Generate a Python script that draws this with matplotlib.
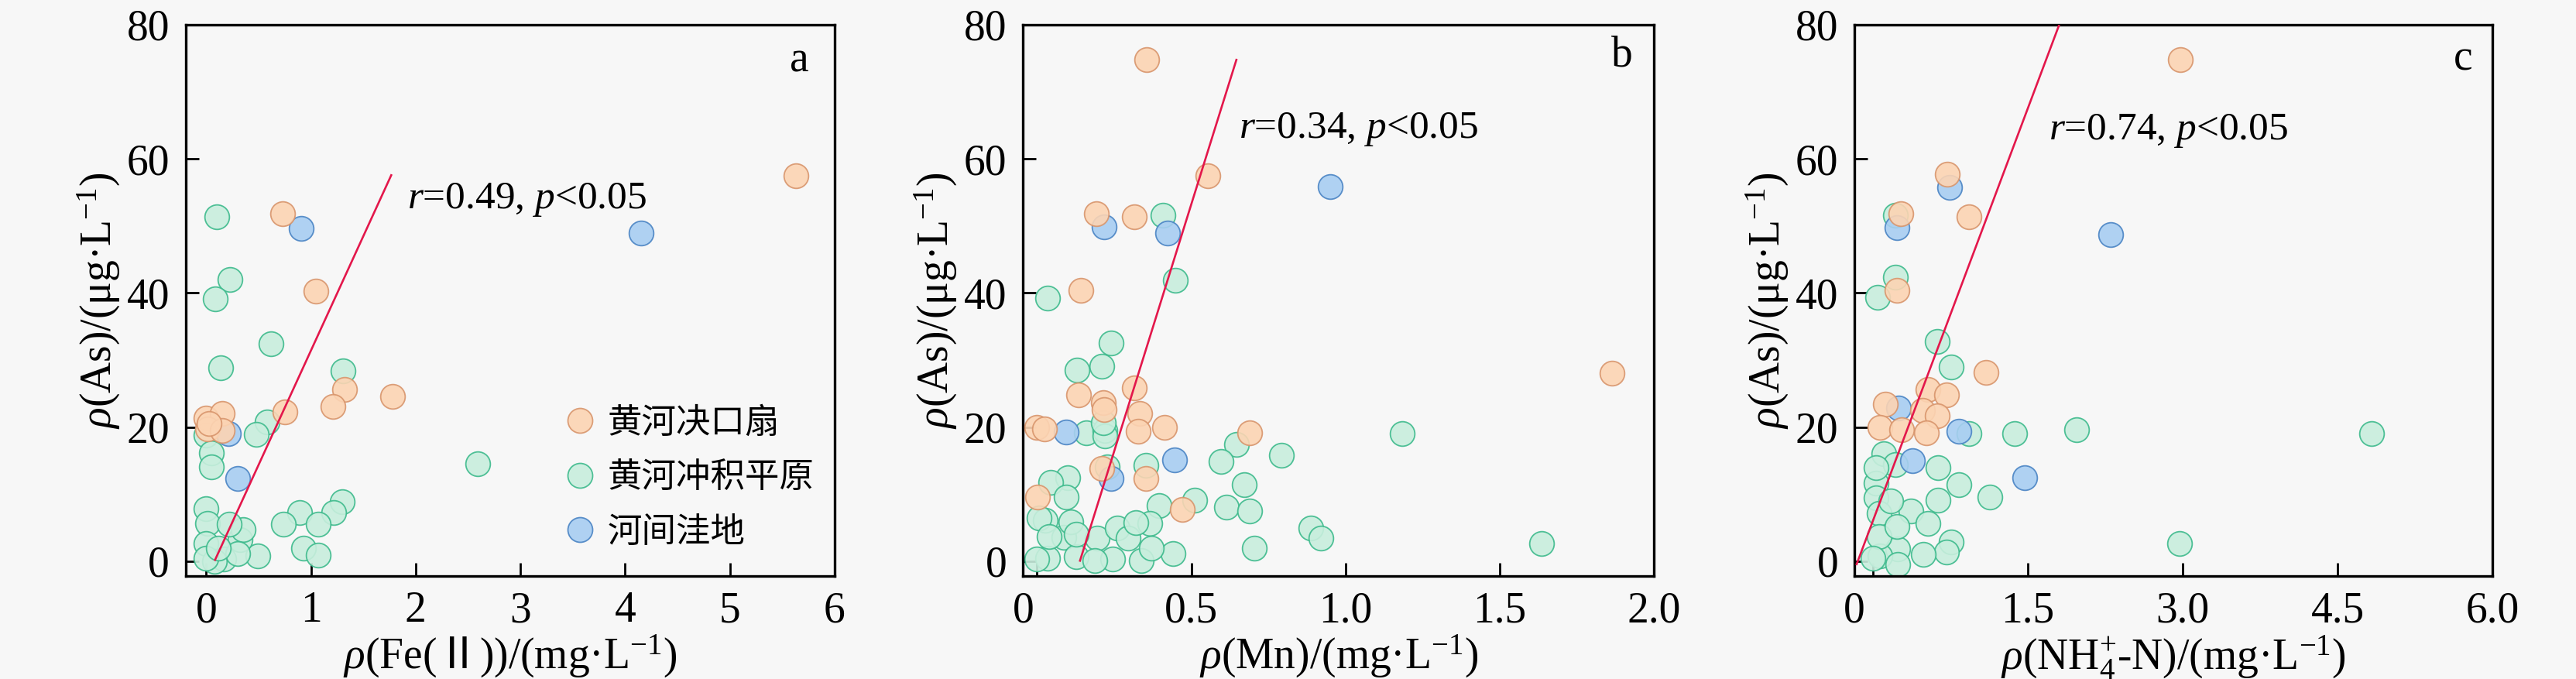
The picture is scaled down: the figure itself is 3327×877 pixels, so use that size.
import matplotlib
matplotlib.use("Agg")
import matplotlib.pyplot as plt
from matplotlib.lines import Line2D
from matplotlib.transforms import ScaledTranslation

plt.rcParams["font.family"] = ["Liberation Serif", "Noto Sans CJK SC", "DejaVu Serif"]
plt.rcParams["mathtext.fontset"] = "custom"
plt.rcParams["mathtext.rm"] = "Liberation Serif"
plt.rcParams["mathtext.it"] = "Liberation Serif:italic"
plt.rcParams["mathtext.sf"] = "Noto Sans CJK SC"

groups = ["黄河决口扇", "黄河冲积平原", "河间洼地"]

# panel a: Fe(II) vs As
a_fan_x = [5.63, 0.73, 1.05, 1.32, 1.21, 1.78, 0.75, 0.0, 0.15, 0.01, 0.15, 0.03]
a_fan_y = [57.5, 51.8, 40.3, 25.6, 23.1, 24.6, 22.3, 21.4, 22.0, 19.7, 19.5, 20.5]
a_plain_x = [0.10, 0.23, 0.09, 0.62, 0.14, 1.31, 0.58, 0.48, 0.0, 0.05, 0.05, 2.59,
             1.30, 1.22, 0.89, 0.74, 1.07, 0.93, 1.07, 0.49, 0.0, 0.01, 0.0, 0.17,
             0.32, 0.35, 0.22, 0.30, 0.08, 0.0, 0.12]
a_plain_y = [51.4, 42.0, 39.1, 32.4, 28.8, 28.4, 20.8, 18.9, 18.8, 16.1, 14.1, 14.5,
             8.9, 7.3, 7.3, 5.5, 5.5, 1.9, 0.9, 0.8, 7.8, 5.7, 2.6, 0.3,
             3.2, 4.7, 5.5, 1.2, 0.0, 0.5, 2.0]
a_depr_x = [0.91, 4.15, 0.30, 0.21]
a_depr_y = [49.6, 48.9, 12.3, 19.0]

# panel b: Mn vs As
b_fan_x = [0.356, 0.553, 0.192, 0.315, 0.143, 1.864, 0.315, 0.134, 0.215, 0.218,
           0.333, 0.412, 0.327, 0.690, 0.0, 0.025, 0.21, 0.353, 0.47, 0.002]
b_fan_y = [74.8, 57.5, 51.8, 51.3, 40.4, 28.0, 25.9, 24.8, 23.6, 22.6,
           22.0, 20.0, 19.4, 19.2, 20.0, 19.7, 13.8, 12.3, 7.7, 9.6]
b_plain_x = [0.408, 0.447, 0.033, 0.241, 0.21, 0.13, 1.183, 0.16, 0.22, 0.22, 0.215,
             0.646, 0.793, 0.596, 0.353, 0.227, 0.671, 0.098, 0.044, 0.094, 0.512,
             0.613, 0.688, 0.395, 0.887, 0.919, 0.705, 1.636, 0.366, 0.441, 0.337,
             0.245, 0.027, 0.006, 0.086, 0.11, 0.035, 0.0, 0.128, 0.195, 0.186,
             0.26, 0.295, 0.32, 0.37, 0.04, 0.128]
b_plain_y = [51.6, 41.9, 39.2, 32.5, 29.1, 28.5, 19.0, 19.1, 19.5, 18.7, 20.7,
             17.4, 15.8, 14.9, 14.3, 14.1, 11.4, 12.5, 11.8, 9.6, 9.1,
             8.1, 7.5, 8.3, 5.0, 3.5, 1.9, 2.7, 5.6, 1.1, 0.1,
             0.3, 6.1, 6.5, 3.6, 5.9, 0.5, 0.3, 0.7, 3.4, 0.1,
             5.0, 3.4, 5.8, 1.9, 3.7, 4.0]
b_depr_x = [0.949, 0.218, 0.424, 0.094, 0.445, 0.24]
b_depr_y = [55.9, 49.8, 48.9, 19.3, 15.1, 12.3]

# panel c: NH4+-N vs As
c_fan_x = [2.98, 0.72, 0.27, 0.93, 0.23, 1.095, 0.53, 0.71, 0.12, 0.48, 0.62, 0.07, 0.28, 0.52]
c_fan_y = [74.8, 57.7, 51.8, 51.3, 40.4, 28.1, 25.6, 24.8, 23.4, 22.5, 21.7, 20.0, 19.6, 19.2]
c_plain_x = [0.216, 0.216, 0.043, 0.62, 0.755, 2.97, 4.83, 1.97, 0.93, 1.37, 0.63,
             0.83, 1.13, 0.63, 0.37, 0.53, 0.76, 0.71, 0.49, 0.24, 0.07, 0.24,
             0.106, 0.22, 0.03, 0.03, 0.03, 0.06, 0.06, 0.23, 0.17, 0.0]
c_plain_y = [51.6, 42.3, 39.4, 32.8, 29.0, 2.6, 19.0, 19.6, 19.0, 19.0, 14.0,
             11.4, 9.6, 9.1, 7.5, 5.6, 2.9, 1.4, 1.0, 1.8, 0.8, -0.5,
             16.0, 14.4, 11.7, 14.0, 9.4, 7.1, 3.7, 5.2, 9.0, 0.4]
c_depr_x = [0.745, 0.232, 2.30, 0.83, 1.47, 0.38, 0.25]
c_depr_y = [55.7, 49.7, 48.7, 19.4, 12.5, 15.0, 22.8]

# fitted lines: slope, intercept, x start, x end
a_fit = (34.1, -2.7, 0.085, 1.767)
b_fit = (147.3, -20.4, 0.139, 0.646)
c_fit = (41.0, 6.0, -0.157, 2.0)

stats = ["0.49", "0.34", "0.74"]
letters = ["a", "b", "c"]
xlabels = [r"$\rho$(Fe($\mathsf{Ⅱ}$))/(mg·L$^{-1}$)",
           r"$\rho$(Mn)/(mg·L$^{-1}$)",
           r"$\rho$(NH$_4^{+}$-N)/(mg·L$^{-1}$)"]
ylabel = r"$\rho$(As)/(μg·L$^{-1}$)"
xticks = [[0, 1, 2, 3, 4, 5, 6], [0, 0.5, 1.0, 1.5, 2.0], [0, 1.5, 3.0, 4.5, 6.0]]
xticklabels = [["0", "1", "2", "3", "4", "5", "6"],
               ["0", "0.5", "1.0", "1.5", "2.0"],
               ["0", "1.5", "3.0", "4.5", "6.0"]]
xlims = [(-0.195, 6.0), (-0.046, 2.0), (-0.178, 6.0)]
yticks = [0, 20, 40, 60, 80]

face = ["#FCD4B3", "#C8EEDD", "#A8CDF2"]
edge = ["#D8956C", "#3DBA8C", "#4A84C4"]
bg = "#F7F7F7"

fig = plt.figure(figsize=(33.27, 8.77), dpi=100, facecolor=bg)
rects = [[0.0721, 0.1517, 0.2519, 0.812],
         [0.3971, 0.1517, 0.2450, 0.812],
         [0.7199, 0.1517, 0.2477, 0.812]]

panels = [
    (a_fan_x, a_fan_y, a_plain_x, a_plain_y, a_depr_x, a_depr_y, a_fit),
    (b_fan_x, b_fan_y, b_plain_x, b_plain_y, b_depr_x, b_depr_y, b_fit),
    (c_fan_x, c_fan_y, c_plain_x, c_plain_y, c_depr_x, c_depr_y, c_fit),
]
stat_pos = [(0.341, 0.683), (0.342, 0.81), (0.304, 0.808)]
letter_pos = [(0.946, 0.935), (0.949, 0.944), (0.954, 0.937)]
zero_shift = [0.0, -18.0, -24.0]

for i, (fx, fy, px, py, dx, dy, fit) in enumerate(panels):
    ax = fig.add_axes(rects[i], facecolor=bg)
    ms = 520
    ax.scatter(px, py, s=ms, facecolor=face[1], edgecolor=edge[1], linewidth=1.3, alpha=0.9, zorder=2)
    ax.scatter(dx, dy, s=ms, facecolor=face[2], edgecolor=edge[2], linewidth=1.3, alpha=0.9, zorder=3)
    ax.scatter(fx, fy, s=ms, facecolor=face[0], edgecolor=edge[0], linewidth=1.3, alpha=0.9, zorder=4)

    slope, icpt, x0, x1 = fit
    ax.plot([x0, x1], [icpt + slope * x0, icpt + slope * x1], color="#E3174B", lw=1.9, zorder=5)

    ax.set_xlim(*xlims[i])
    ax.set_ylim(-2.2, 80)
    ax.set_xticks(xticks[i])
    ax.set_xticklabels(xticklabels[i])
    ax.set_yticks(yticks)
    ax.tick_params(direction="in", length=12, width=2, labelsize=40)
    ax.tick_params(axis="x", pad=14)
    ax.tick_params(axis="y", pad=15)
    for sp in ax.spines.values():
        sp.set_linewidth(2.4)
    ax.set_xlabel(xlabels[i], fontsize=40, labelpad=2)
    ax.set_ylabel(ylabel, fontsize=40, labelpad=4)

    ax.text(stat_pos[i][0], stat_pos[i][1],
            r"$\it{r}$=" + stats[i] + r", $\it{p}$<0.05",
            transform=ax.transAxes, fontsize=37, ha="left", va="center")
    ax.text(letter_pos[i][0], letter_pos[i][1], letters[i],
            transform=ax.transAxes, fontsize=40, ha="center", va="center")

    if zero_shift[i]:
        lab = ax.xaxis.get_major_ticks()[0].label1
        lab.set_transform(lab.get_transform()
                          + ScaledTranslation(zero_shift[i] / 100, 0, fig.dpi_scale_trans))

    if i == 0:
        handles = [Line2D([], [], marker="o", ls="", markersize=23,
                          markerfacecolor=face[k], markeredgecolor=edge[k],
                          markeredgewidth=1.3, alpha=0.9) for k in range(3)]
        ax.legend(handles, groups, loc="lower left", bbox_to_anchor=(0.581, 0.048),
                  frameon=False, prop={"family": "Noto Sans CJK SC", "size": 32},
                  handlelength=1.0, handletextpad=0.3, labelspacing=0.55,
                  borderpad=0, borderaxespad=0)

fig.savefig("out.png", dpi=100, facecolor=bg)
